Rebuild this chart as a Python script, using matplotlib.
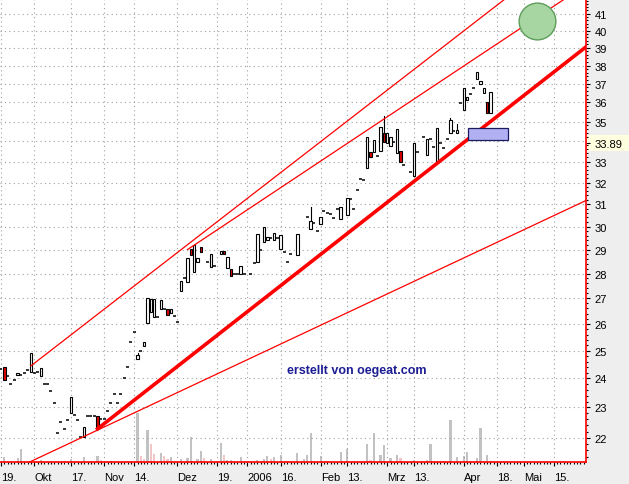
import matplotlib
matplotlib.use("Agg")
import matplotlib.pyplot as plt
from matplotlib.patches import Rectangle
from matplotlib.ticker import FixedLocator, NullFormatter
from matplotlib.transforms import IdentityTransform

plt.rcParams['font.family'] = ['Liberation Sans', 'DejaVu Sans']

# ---- candles: trading-day index (0 = 19 Sep 2005), open / high / low / close ----
days = [0, 1, 2, 3, 4, 5, 6, 7, 8, 9, 10, 11, 12, 13, 14, 15, 16, 17, 18, 19,
        20, 21, 22, 23, 24, 25, 26, 27, 28, 29, 30, 31, 32, 33, 34, 35, 36, 37, 38, 39,
        40, 41, 42, 43, 44, 45, 46, 47, 48, 49, 50, 51, 52, 53, 54, 55, 56, 57, 58, 59,
        60, 62, 63, 64, 66, 67, 68, 69, 70, 71, 72, 73, 75, 76, 77, 78, 79, 80, 81, 82,
        83, 84, 85, 86, 87, 89, 92, 93, 94, 95, 96, 97, 98, 99, 100, 101, 102, 104, 105, 106,
        107, 108, 109, 110, 111, 112, 113, 114, 115, 116, 117, 118, 119, 120, 121, 123, 124, 125, 127, 128,
        129, 130, 131, 132, 133, 134, 135, 136, 137, 138, 139, 140, 141, 142, 143, 144, 145, 146, 147]
opens = [24.32, 24.42, 24.10, 23.82, 23.96, 24.14, 24.14, 24.18, 24.31, 24.24, 24.18, 24.24, 24.10, 23.82, 23.82, 23.57, 23.14, 22.16, 22.51, 22.29,
         22.58, 22.80, 22.74, 22.58, 22.04, 22.02, 22.70, 22.70, 22.70, 22.70, 22.60, 22.60, 22.88, 23.14, 23.46, 23.14, 23.46, 24.00, 24.42, 25.32,
         25.70, 24.71, 25.00, 25.16, 26.03, 26.47, 26.27, 26.27, 26.59, 26.56, 26.56, 26.43, 26.31, 26.07, 27.27, 27.80, 27.67, 29.04, 28.07, 28.49,
         29.10, 28.46, 28.28, 28.32, 28.80, 28.96, 28.24, 28.17, 27.96, 27.96, 27.96, 27.96, 27.96, 28.42, 28.46, 28.97, 29.33, 29.43, 29.48, 29.43,
         29.48, 29.01, 28.90, 28.46, 28.80, 28.79, 30.41, 29.87, 30.17, 29.81, 30.10, 30.71, 30.62, 30.56, 30.36, 30.79, 30.33, 30.51, 31.24, 30.77,
         31.65, 32.19, 32.11, 32.70, 33.49, 33.49, 33.29, 33.51, 34.40, 33.93, 33.76, 33.97, 33.43, 33.54, 32.86, 32.48, 32.32, 33.49, 34.20, 33.32,
         34.10, 33.74, 32.98, 33.93, 33.69, 34.10, 34.43, 34.54, 34.40, 35.95, 35.59, 36.12, 36.44, 36.74, 37.28, 36.96, 36.51, 36.04, 35.42]
closes = [24.32, 23.94, 24.10, 23.82, 23.96, 24.21, 24.14, 24.18, 24.31, 24.93, 24.18, 24.24, 24.38, 23.82, 23.82, 23.57, 23.14, 22.16, 22.51, 22.29,
          22.58, 23.36, 22.74, 22.58, 22.04, 22.35, 22.70, 22.70, 22.70, 22.29, 22.60, 22.60, 22.88, 23.14, 23.46, 23.14, 23.46, 24.00, 24.42, 25.32,
          25.70, 24.84, 25.00, 25.32, 27.00, 26.96, 26.96, 26.27, 26.92, 26.56, 26.36, 26.56, 26.31, 26.07, 27.71, 27.80, 28.63, 28.79, 29.18, 28.63,
          28.90, 28.46, 28.83, 28.32, 28.96, 28.80, 28.67, 27.90, 27.96, 27.96, 28.32, 27.96, 27.96, 28.42, 29.68, 28.97, 29.99, 29.56, 29.48, 29.73,
          29.48, 29.65, 28.90, 28.46, 28.80, 29.68, 30.41, 30.24, 30.17, 29.81, 30.44, 30.71, 30.62, 30.56, 30.36, 30.79, 30.85, 31.27, 31.24, 30.77,
          31.65, 32.19, 32.11, 34.19, 33.23, 34.04, 33.29, 34.74, 33.98, 34.40, 34.23, 33.97, 34.60, 32.98, 32.86, 32.48, 33.93, 33.49, 34.20, 34.10,
          34.10, 33.74, 34.69, 33.93, 33.69, 34.10, 35.07, 34.54, 34.56, 35.95, 36.74, 36.30, 36.44, 36.74, 37.65, 37.13, 36.78, 35.43, 36.56]
# extra wick highs (day -> high); other candles have no visible wick
wick_high_days = [41, 93, 115, 135, 137]
wick_high_vals = [24.93, 30.86, 35.29, 35.20, 34.85]

# ---- volume (relative units) ----
vol_days = [1, 5, 6, 12, 21, 25, 29, 30, 33, 41, 42, 43, 44, 45, 46, 48, 49, 50, 51, 54,
            56, 57, 59, 60, 61, 63, 66, 67, 68, 69, 72, 77, 79, 80, 81, 82, 84, 89, 91, 92,
            93, 96, 102, 104, 110, 111, 112, 114, 115, 117, 119, 120, 124, 128, 129, 131, 135, 137, 139, 140,
            141, 143, 144, 146, 147]
vol_vals = [5, 4, 13, 2, 3, 5, 6, 2, 1.5, 49, 6, 3, 32, 18, 8, 9, 6, 3, 5, 3,
            4, 25, 3, 11, 4, 3, 19, 7, 2, 2, 5, 2, 3, 6, 3, 5, 7, 9, 3, 7,
            29, 6, 10, 13, 18, 2, 29, 7, 17, 4, 7, 4, 2, 2, 18, 1, 42, 5, 6, 10,
            1, 4, 34, 7, 1]
vol_down_days = [30, 42, 43, 45, 46, 49, 50, 61, 67, 81, 111, 120, 141]

# ---- trend lines: (day, price) end points ----
support_days, support_prices = [29, 176], [22.29, 39.10]
upper1_days, upper1_prices = [9, 152], [24.45, 42.0]
upper2_days, upper2_prices = [56, 170], [29.0, 42.0]
lower_days, lower_prices = [8, 176], [21.2, 31.19]

# marker box and circle
box_days, box_prices = [140.3, 152.3], [34.05, 34.68]
circle_day, circle_price = 161, 40.58
last_label = 33.89

# ---- axis ticks ----
x_tick_days = [0, 10, 21, 31, 40, 53, 65, 74, 84, 96, 104, 116, 124, 139, 149, 157, 166]
x_tick_labels = ['19.', 'Okt', '17.', 'Nov', '14.', 'Dez', '19.', '2006', '16.', 'Feb', '13.',
                 'Mrz', '13.', 'Apr', '18.', 'Mai', '15.']
y_grid = list(range(22, 42))
y_tick_labels_vals = [v for v in y_grid if v != 34]

W, H = 629, 485
fig = plt.figure(figsize=(W / 100, H / 100), dpi=100, facecolor='#EEEEEE')
rect = [0, 22 / H, 586 / W, 463 / H]
axv = fig.add_axes(rect, zorder=1)
ax = fig.add_axes(rect, zorder=2)
ax.patch.set_visible(False)
axv.set_facecolor('white')

XL = (-0.3, 175.7)
YL = (21.23, 41.9)

# volume
axv.set_xlim(*XL)
axv.set_ylim(0, 463)
vcol = ['#F2C6C6' if d in vol_down_days else '#C2C2C2' for d in vol_days]
axv.bar(vol_days, vol_vals, width=0.65, color=vcol, linewidth=0)
axv.set_xticks([])
axv.set_yticks([])
for s in axv.spines.values():
    s.set_visible(False)

ax.set_yscale('log')
ax.set_xlim(*XL)
ax.set_ylim(*YL)

# grid
gkw = dict(color='#A0A0A0', lw=0.8, linestyle=(0, (1, 3)), zorder=0)
for v in y_grid:
    ax.axhline(v, **gkw)
for d in x_tick_days:
    ax.axvline(d, **gkw)

# candles
wick = dict(zip(wick_high_days, wick_high_vals))
for d, o, c in zip(days, opens, closes):
    if d in wick:
        ax.plot([d, d], [max(o, c), wick[d]], color='black', lw=0.8, zorder=3)
    if abs(o - c) < 1e-9:
        ax.plot([d - 0.45, d + 0.45], [o, o], color='black', lw=1.1, zorder=4,
                solid_capstyle='butt')
    else:
        fc = 'white' if c > o else '#E00000'
        ax.add_patch(Rectangle((d - 0.37, min(o, c)), 0.74, abs(c - o),
                               facecolor=fc, edgecolor='black', lw=0.8, zorder=4))

# trend lines
ax.plot(upper1_days, upper1_prices, color='#FF0000', lw=0.9, zorder=5)
ax.plot(upper2_days, upper2_prices, color='#FF0000', lw=0.9, zorder=5)
ax.plot(lower_days, lower_prices, color='#FF0000', lw=0.9, zorder=5)
ax.plot(support_days, support_prices, color='#FF0000', lw=2.6, zorder=6)

# box and circle
ax.add_patch(Rectangle((box_days[0], box_prices[0]), box_days[1] - box_days[0],
                       box_prices[1] - box_prices[0], facecolor='#B0B0F2',
                       edgecolor='#1A1A60', lw=0.9, zorder=7))
ax.scatter([circle_day], [circle_price], s=700, facecolor='#A8D6A2',
           edgecolor='#5E9C5A', lw=1.0, zorder=7)

# watermark
ax.text(0.609, 0.199, 'erstellt von oegeat.com', transform=ax.transAxes,
        ha='center', va='center', color='#1C1C94', fontsize=9, fontweight='bold', zorder=8)

# spines
for s in ['top', 'left']:
    ax.spines[s].set_visible(False)
for s in ['right', 'bottom']:
    ax.spines[s].set_color('#FF0000')
    ax.spines[s].set_linewidth(1.2)

# y axis (right)
ax.yaxis.tick_right()
yt = y_tick_labels_vals + [last_label]
ax.yaxis.set_major_locator(FixedLocator(yt))
ax.set_yticklabels([str(v) for v in y_tick_labels_vals] + ['%.2f' % last_label])
minor_y = [round(22 + 0.2 * i, 1) for i in range(-3, 100) if (i % 5) != 0]
minor_y = [v for v in minor_y if YL[0] < v < YL[1]]
ax.yaxis.set_minor_locator(FixedLocator(minor_y))
ax.yaxis.set_minor_formatter(NullFormatter())
ax.tick_params(axis='y', which='major', length=3, width=0.8, pad=3, labelsize=8, colors='black')
ax.tick_params(axis='y', which='minor', length=1.5, width=0.8)

# x axis
ax.xaxis.set_major_locator(FixedLocator(x_tick_days))
ax.set_xticklabels(x_tick_labels, ha='left')
ax.xaxis.set_minor_locator(FixedLocator(list(range(0, 176))))
ax.tick_params(axis='x', which='major', length=3, width=0.8, pad=4, labelsize=8)
ax.tick_params(axis='x', which='minor', length=1.5, width=0.8)

# highlight box behind last price label
fig.canvas.draw()
ydisp = ax.transData.transform((0, last_label))[1]
fig.add_artist(Rectangle((587, ydisp - 8), 45, 16, transform=IdentityTransform(),
                         facecolor='#FFFFE0', edgecolor='none', zorder=0))

fig.savefig('out.png', dpi=100, facecolor=fig.get_facecolor())
